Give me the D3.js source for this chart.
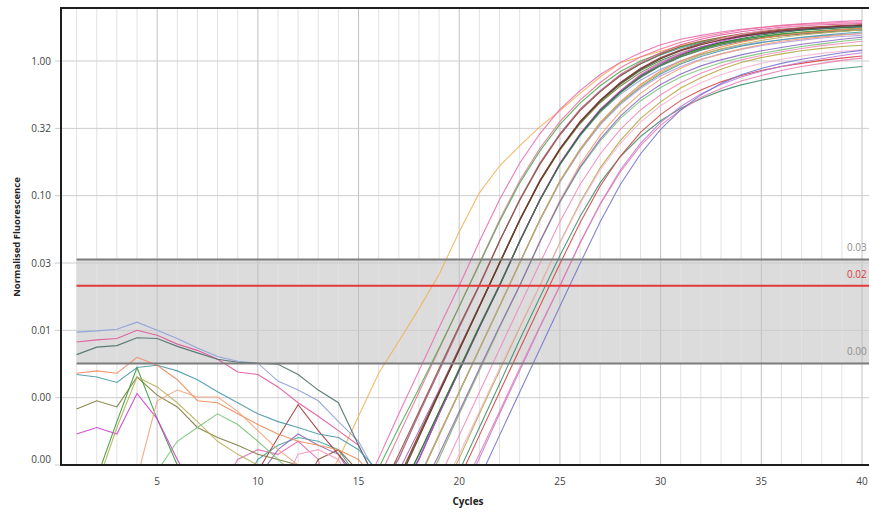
<!DOCTYPE html>
<html>
<head>
<meta charset="utf-8">
<script src="https://cdn.jsdelivr.net/npm/d3@7"></script>
<style>
  body { margin: 0; background: #fff; }
  svg { display: block; }
  text { font-family: "Open Sans", "DejaVu Sans", sans-serif; }
</style>
</head>
<body>
<svg width="869" height="512"></svg>
<script>
'use strict';

// ---- data ----
const cycles = [1, 2, 3, 4, 5, 6, 7, 8, 9, 10,
                11, 12, 13, 14, 15, 16, 17, 18, 19, 20,
                21, 22, 23, 24, 25, 26, 27, 28, 29, 30,
                31, 32, 33, 34, 35, 36, 37, 38, 39, 40];
const xTicks = [5, 10, 15, 20, 25, 30, 35, 40];
const yTicks = [0.001, 0.00316, 0.01, 0.0316, 0.1, 0.316, 1];
const thresholdUpper = 0.0336;
const thresholdValue = 0.0214;
const thresholdLower = 0.00568;
const thresholdLabels = ["0.03", "0.02", "0.00"];

// normalised fluorescence per cycle, one array per well (null = below the axis, not readable)
const well01 = [null, null, null, null, null, null, null, null, null, null,
  null, null, 0.00063, 0.0011, 0.0023, 0.0048, 0.0083, 0.0145, 0.026, 0.054,
  0.105, 0.166, 0.234, 0.324, 0.427, 0.575, 0.76, 0.97, 1.07, 1.18,
  1.30, 1.40, 1.49, 1.57, 1.64, 1.70, 1.75, 1.79, 1.83, 1.86];
const well02 = [null, null, null, null, null, null, null, 0.0006, 0.0011, 0.0013,
  0.0012, 0.0015, 0.0011, 0.00025, 0.00056, 0.00112, 0.0024, 0.0050, 0.0105, 0.0214,
  0.0457, 0.0933, 0.174, 0.288, 0.437, 0.603, 0.794, 0.977, 1.15, 1.32,
  1.45, 1.55, 1.64, 1.72, 1.78, 1.84, 1.89, 1.93, 1.97, 2.0];
const well03 = [null, null, null, null, null, null, null, null, null, null,
  null, null, null, null, 0.00038, 0.00079, 0.00166, 0.00347, 0.00724, 0.0151,
  0.0316, 0.066, 0.129, 0.224, 0.355, 0.513, 0.692, 0.891, 1.07, 1.23,
  1.38, 1.50, 1.60, 1.70, 1.77, 1.83, 1.87, 1.90, 1.93, 1.95];
const well04 = [null, null, null, null, null, null, null, null, null, null,
  null, null, null, null, 0.0005, 0.00095, 0.0019, 0.0037, 0.0074, 0.0150,
  0.0310, 0.064, 0.124, 0.214, 0.338, 0.487, 0.655, 0.835, 1.0, 1.14,
  1.27, 1.38, 1.47, 1.55, 1.62, 1.67, 1.71, 1.75, 1.78, 1.80];
const well05 = [null, null, null, null, null, null, null, null, 0.0006, 0.0011,
  0.0014, 0.0016, 0.0015, 0.0013, 0.0008, 0.00056, 0.00112, 0.0024, 0.0050, 0.0105,
  0.0214, 0.0457, 0.0933, 0.174, 0.288, 0.437, 0.60, 0.78, 0.95, 1.11,
  1.25, 1.36, 1.45, 1.53, 1.60, 1.66, 1.71, 1.75, 1.78, 1.80];
const well06 = [0.0082, 0.0085, 0.0087, 0.0100, 0.0092, 0.0079, 0.0071, 0.0061, 0.0049, 0.0047,
  0.0038, 0.0029, 0.0023, 0.0018, 0.0014, 0.0007, 0.00112, 0.0024, 0.0050, 0.0105,
  0.0214, 0.0457, 0.0933, 0.174, 0.288, 0.437, 0.603, 0.794, 0.977, 1.15,
  1.32, 1.45, 1.56, 1.65, 1.72, 1.78, 1.82, 1.86, 1.88, 1.90];
const well07 = [null, null, null, null, null, null, null, null, null, null,
  null, 0.0006, 0.0011, 0.0013, 0.0009, 0.0006, 0.0012, 0.0025, 0.0052, 0.0108,
  0.0218, 0.046, 0.092, 0.170, 0.282, 0.428, 0.59, 0.775, 0.955, 1.12,
  1.28, 1.40, 1.50, 1.59, 1.66, 1.72, 1.77, 1.80, 1.83, 1.85];
const well08 = [null, null, null, null, null, null, null, null, null, null,
  null, null, null, null, null, 0.00038, 0.00079, 0.00166, 0.00347, 0.00724,
  0.0151, 0.0316, 0.066, 0.129, 0.222, 0.350, 0.50, 0.67, 0.85, 1.01,
  1.15, 1.27, 1.37, 1.45, 1.52, 1.58, 1.63, 1.67, 1.71, 1.74];
const well09 = [null, null, null, null, null, null, null, null, null, 0.0008,
  0.0013, 0.0017, 0.0014, 0.0012, 0.0007, 0.0005, 0.0009, 0.0018, 0.0036, 0.0074,
  0.0152, 0.0316, 0.066, 0.129, 0.224, 0.355, 0.51, 0.69, 0.88, 1.05,
  1.20, 1.33, 1.43, 1.52, 1.59, 1.65, 1.70, 1.74, 1.77, 1.80];
const well10 = [0.0026, 0.0030, 0.0027, 0.0045, 0.0033, 0.0027, 0.0019, 0.0016, 0.0014, 0.0012,
  0.0011, 0.0010, 0.0009, 0.0008, 0.0006, 0.0005, 0.00079, 0.00166, 0.00347, 0.00724,
  0.0151, 0.0316, 0.066, 0.127, 0.218, 0.342, 0.49, 0.65, 0.82, 0.98,
  1.12, 1.24, 1.34, 1.42, 1.49, 1.55, 1.60, 1.64, 1.67, 1.70];
const well11 = [null, null, null, null, null, null, null, null, 0.0007, 0.0009,
  0.0016, 0.0028, 0.0018, 0.0012, 0.0008, 0.0004, 0.0008, 0.0017, 0.0035, 0.0073,
  0.0151, 0.0316, 0.066, 0.129, 0.224, 0.355, 0.513, 0.692, 0.88, 1.06,
  1.21, 1.35, 1.46, 1.55, 1.63, 1.70, 1.75, 1.79, 1.82, 1.85];
const well12 = [null, null, null, null, null, null, null, null, null, null,
  0.0006, 0.0012, 0.0013, 0.0011, 0.0006, 0.00025, 0.00056, 0.00112, 0.0024, 0.0050,
  0.0105, 0.0214, 0.0457, 0.0933, 0.174, 0.288, 0.437, 0.603, 0.794, 0.977,
  1.15, 1.32, 1.46, 1.58, 1.68, 1.76, 1.83, 1.88, 1.92, 1.95];
const well13 = [0.0097, 0.0099, 0.0102, 0.0115, 0.0100, 0.0087, 0.0074, 0.0064, 0.0059, 0.0057,
  0.0042, 0.0036, 0.0030, 0.0021, 0.0015, 0.0008, 0.0006, 0.00112, 0.0024, 0.0050,
  0.0105, 0.0214, 0.0457, 0.0925, 0.170, 0.278, 0.415, 0.565, 0.72, 0.87,
  1.00, 1.12, 1.22, 1.31, 1.38, 1.44, 1.49, 1.53, 1.57, 1.60];
const well14 = [0.0004, 0.0008, 0.0021, 0.0053, 0.0022, 0.0010, 0.0005, null, null, null,
  null, null, null, null, null, 0.0003, 0.0006, 0.0012, 0.0025, 0.0052,
  0.0108, 0.0218, 0.046, 0.092, 0.170, 0.280, 0.42, 0.58, 0.76, 0.93,
  1.08, 1.22, 1.34, 1.44, 1.52, 1.59, 1.64, 1.68, 1.72, 1.75];
const well15 = [0.0066, 0.0075, 0.0077, 0.0088, 0.0087, 0.0076, 0.0068, 0.0061, 0.0058, 0.0057,
  0.0056, 0.0047, 0.0036, 0.0029, 0.0014, 0.0007, 0.0006, 0.0011, 0.0024, 0.0050,
  0.0105, 0.0214, 0.0457, 0.093, 0.172, 0.284, 0.428, 0.585, 0.755, 0.92,
  1.07, 1.20, 1.31, 1.40, 1.48, 1.54, 1.59, 1.63, 1.67, 1.70];
const well16 = [0.0017, 0.0019, 0.0017, 0.0034, 0.0022, 0.0011, 0.0006, null, null, null,
  null, null, null, null, null, 0.0003, 0.0006, 0.0011, 0.0024, 0.0050,
  0.0105, 0.0214, 0.0457, 0.0933, 0.174, 0.288, 0.437, 0.60, 0.785, 0.96,
  1.12, 1.27, 1.40, 1.51, 1.60, 1.67, 1.73, 1.77, 1.81, 1.85];
const well17 = [0.0047, 0.0045, 0.0041, 0.0053, 0.0055, 0.0050, 0.0043, 0.0035, 0.0029, 0.0024,
  0.0021, 0.0019, 0.0017, 0.0016, 0.0013, 0.0009, 0.0005, 0.00079, 0.00166, 0.00347,
  0.00724, 0.0151, 0.0316, 0.066, 0.127, 0.218, 0.34, 0.485, 0.64, 0.80,
  0.95, 1.08, 1.19, 1.29, 1.37, 1.44, 1.50, 1.55, 1.60, 1.64];
const well18 = [0.0048, 0.0050, 0.0048, 0.0063, 0.0055, 0.0043, 0.0030, 0.0029, 0.0024, 0.0020,
  0.0017, 0.0015, 0.0014, 0.0013, 0.0011, 0.0007, 0.0004, 0.0008, 0.0017, 0.0035,
  0.0073, 0.0151, 0.0316, 0.066, 0.129, 0.222, 0.350, 0.50, 0.67, 0.84,
  1.00, 1.14, 1.27, 1.38, 1.47, 1.55, 1.61, 1.66, 1.71, 1.75];
const well19 = [null, null, null, null, null, null, null, null, null, null,
  null, null, null, null, null, null, 0.00038, 0.00079, 0.00166, 0.00347,
  0.00724, 0.0151, 0.0316, 0.065, 0.126, 0.215, 0.335, 0.475, 0.625, 0.775,
  0.91, 1.03, 1.13, 1.22, 1.30, 1.37, 1.43, 1.48, 1.52, 1.55];
const well20 = [null, 0.0007, 0.0019, 0.0045, 0.0038, 0.0029, 0.0021, 0.0015, 0.0012, 0.0010,
  0.0009, 0.0008, 0.0006, null, null, null, 0.00038, 0.00079, 0.00166, 0.00347,
  0.00724, 0.0151, 0.0316, 0.066, 0.128, 0.220, 0.345, 0.49, 0.65, 0.82,
  0.97, 1.11, 1.23, 1.33, 1.42, 1.50, 1.56, 1.61, 1.66, 1.70];
const well21 = [null, null, null, 0.0008, 0.0030, 0.0036, 0.0032, 0.0032, 0.0025, 0.0018,
  0.0013, 0.0010, 0.0008, null, null, null, 0.00025, 0.00056, 0.00112, 0.0024,
  0.0050, 0.0105, 0.0214, 0.0457, 0.092, 0.170, 0.280, 0.42, 0.575, 0.735,
  0.885, 1.02, 1.13, 1.23, 1.32, 1.40, 1.46, 1.51, 1.56, 1.60];
const well22 = [null, null, null, null, 0.0009, 0.0015, 0.0019, 0.0024, 0.0020, 0.0015,
  0.0011, 0.0008, 0.0006, null, null, null, 0.00025, 0.00056, 0.00112, 0.0024,
  0.0050, 0.0105, 0.0214, 0.045, 0.089, 0.160, 0.255, 0.375, 0.505, 0.635,
  0.76, 0.87, 0.97, 1.06, 1.14, 1.21, 1.28, 1.34, 1.40, 1.45];
const well23 = [null, null, null, null, null, null, null, null, null, null,
  null, null, null, null, null, null, 0.0003, 0.0006, 0.0012, 0.0025,
  0.0052, 0.0107, 0.0214, 0.0452, 0.090, 0.163, 0.263, 0.39, 0.53, 0.67,
  0.80, 0.92, 1.02, 1.11, 1.19, 1.26, 1.33, 1.39, 1.45, 1.50];
const well24 = [null, null, null, null, null, null, null, null, null, null,
  null, null, null, null, null, null, null, 0.00038, 0.00079, 0.00166,
  0.00347, 0.00724, 0.0151, 0.0313, 0.064, 0.121, 0.204, 0.311, 0.433, 0.561,
  0.69, 0.81, 0.92, 1.02, 1.10, 1.17, 1.24, 1.30, 1.35, 1.40];
const well25 = [null, null, null, null, null, null, null, null, null, null,
  null, null, null, null, null, null, null, 0.00025, 0.00056, 0.00112,
  0.0024, 0.0050, 0.0105, 0.0214, 0.0449, 0.089, 0.161, 0.256, 0.373, 0.497,
  0.63, 0.75, 0.87, 0.975, 1.06, 1.13, 1.19, 1.24, 1.28, 1.31];
const well26 = [null, null, null, null, null, null, null, null, null, null,
  null, null, null, null, null, null, null, 0.0003, 0.0006, 0.0012,
  0.0025, 0.0052, 0.0107, 0.0214, 0.0445, 0.087, 0.155, 0.245, 0.352, 0.465,
  0.58, 0.69, 0.79, 0.88, 0.96, 1.03, 1.09, 1.14, 1.18, 1.21];
const well27 = [null, null, null, null, null, null, null, null, null, null,
  null, null, null, null, null, null, null, 0.0002, 0.00045, 0.0009,
  0.0019, 0.0040, 0.0085, 0.0175, 0.036, 0.070, 0.125, 0.195, 0.275, 0.36,
  0.445, 0.525, 0.60, 0.665, 0.72, 0.77, 0.81, 0.85, 0.88, 0.91];
const well28 = [null, null, null, null, null, null, null, null, null, null,
  null, null, null, null, null, null, null, null, 0.00038, 0.00079,
  0.00166, 0.00347, 0.00724, 0.0151, 0.0312, 0.063, 0.118, 0.196, 0.295, 0.40,
  0.51, 0.61, 0.70, 0.78, 0.85, 0.91, 0.96, 1.01, 1.05, 1.09];
const well29 = [null, null, null, null, null, null, null, null, null, null,
  null, null, null, null, null, null, null, null, 0.00025, 0.00056,
  0.00112, 0.0024, 0.0050, 0.0105, 0.0214, 0.0447, 0.087, 0.155, 0.245, 0.35,
  0.46, 0.57, 0.67, 0.76, 0.84, 0.91, 0.98, 1.04, 1.10, 1.15];
const well30 = [null, null, null, null, null, null, null, null, null, null,
  null, null, null, null, null, null, null, null, 0.0003, 0.0006,
  0.0012, 0.0025, 0.0052, 0.0107, 0.0214, 0.0445, 0.086, 0.150, 0.235, 0.333,
  0.435, 0.535, 0.625, 0.71, 0.78, 0.85, 0.91, 0.96, 1.01, 1.05];
const well31 = [null, null, null, null, null, null, null, null, null, null,
  null, null, null, null, null, null, null, null, null, 0.00038,
  0.00079, 0.00166, 0.00347, 0.00724, 0.0151, 0.0313, 0.064, 0.121, 0.204, 0.311,
  0.433, 0.56, 0.68, 0.79, 0.88, 0.96, 1.03, 1.09, 1.15, 1.20];
const well32 = [null, null, null, null, null, null, null, null, null, null,
  null, null, null, null, null, 0.00035, 0.00075, 0.0016, 0.0034, 0.0071,
  0.0149, 0.0312, 0.065, 0.127, 0.221, 0.350, 0.505, 0.68, 0.865, 1.04,
  1.19, 1.32, 1.43, 1.52, 1.60, 1.67, 1.72, 1.77, 1.81, 1.84];
const well33 = [null, null, null, null, null, null, null, null, null, null,
  null, null, null, null, null, 0.0003, 0.0006, 0.0012, 0.0025, 0.0051,
  0.0106, 0.0214, 0.0455, 0.0925, 0.172, 0.284, 0.43, 0.59, 0.77, 0.94,
  1.10, 1.25, 1.37, 1.47, 1.56, 1.63, 1.69, 1.73, 1.77, 1.80];

const wells = [well01, well02, well03, well04, well05, well06, well07, well08, well09, well10,
  well11, well12, well13, well14, well15, well16, well17, well18, well19, well20,
  well21, well22, well23, well24, well25, well26, well27, well28, well29, well30,
  well31, well32, well33];

// line colours, in well order
const wellColors = ["#f0b45a", "#e86bb0", "#f06fa0", "#4caf50", "#3fa7a0", "#e0559a", "#8b5a3c",
  "#2e8b57", "#9467bd", "#7d7a3a", "#a33a3a", "#f49ac1", "#8da0d8", "#3a9a3a", "#4f6f6a",
  "#d03fcf", "#4a98a8", "#ef8a5a", "#b4a0e0", "#b8b05a", "#f2a27a", "#7cc47c", "#8a6cc4",
  "#f08cbc", "#b5a642", "#f5b5d0", "#3f8f6f", "#d64545", "#c27ad8", "#e57fae", "#7575d0",
  "#5a3b1f", "#2f6f3f"];

// ---- layout ----
const svg = d3.select("svg");
const plotLeft = 61, plotTop = 8, plotBottom = 465, plotRight = 880;

const x = d3.scaleLinear().domain([1, 40]).range([76.6, 862]);
const y = d3.scaleLog().domain([0.001, 1]).range([plotBottom, 61]);

svg.append("rect").attr("width", 869).attr("height", 512).attr("fill", "#fff");

svg.append("defs").append("clipPath")
    .attr("id", "plotclip")
  .append("rect")
    .attr("x", plotLeft)
    .attr("y", plotTop)
    .attr("width", plotRight - plotLeft)
    .attr("height", plotBottom - plotTop);

// threshold band
svg.append("rect")
    .attr("x", x(1))
    .attr("y", y(thresholdUpper))
    .attr("width", plotRight - x(1))
    .attr("height", y(thresholdLower) - y(thresholdUpper))
    .attr("fill", "#dcdcdc");

// vertical grid (every cycle, darker every 5)
svg.append("g").selectAll("line")
  .data(cycles)
  .join("line")
    .attr("x1", d => x(d)).attr("x2", d => x(d))
    .attr("y1", plotTop).attr("y2", plotBottom)
    .attr("stroke", d => d % 5 === 0 ? "#c2c2c2" : "#e2e2e2")
    .attr("stroke-width", 1);

// horizontal grid + tick stubs
svg.append("g").selectAll("line")
  .data(yTicks)
  .join("line")
    .attr("x1", plotLeft - 6).attr("x2", plotRight)
    .attr("y1", d => y(d)).attr("y2", d => y(d))
    .attr("stroke", "#cccccc")
    .attr("stroke-width", 1);

// amplification curves
const line = d3.line()
    .defined(d => d != null)
    .x((d, i) => x(cycles[i]))
    .y(d => y(d));

svg.append("g")
    .attr("clip-path", "url(#plotclip)")
  .selectAll("path")
  .data(wells)
  .join("path")
    .attr("fill", "none")
    .attr("stroke", (d, i) => wellColors[i])
    .attr("stroke-width", 1.1)
    .attr("stroke-opacity", 0.9)
    .attr("d", line);

// threshold lines
const thr = svg.append("g").attr("clip-path", "url(#plotclip)");
const thrStyles = [[thresholdUpper, "#7c7c7c"], [thresholdValue, "#e2383a"], [thresholdLower, "#7c7c7c"]];
thrStyles.forEach(([v, c]) => {
  thr.append("line")
      .attr("x1", x(1)).attr("x2", plotRight)
      .attr("y1", y(v)).attr("y2", y(v))
      .attr("stroke", c)
      .attr("stroke-width", 2);
});
thrStyles.forEach(([v, c], i) => {
  thr.append("text")
      .attr("x", 847)
      .attr("y", y(v) - 8)
      .attr("font-size", 10)
      .attr("fill", i === 1 ? c : "#8c8c8c")
      .text(thresholdLabels[i]);
});

// frame
svg.append("path")
    .attr("d", `M${plotRight},${plotTop}H${plotLeft}V${plotBottom}H${plotRight}`)
    .attr("fill", "none")
    .attr("stroke", "#1e1e1e")
    .attr("stroke-width", 2);

// y tick labels
svg.append("g").selectAll("text")
  .data(yTicks)
  .join("text")
    .attr("x", 51)
    .attr("y", (d, i) => y(d) - (i === 0 ? 6 : 0))
    .attr("dy", "0.35em")
    .attr("text-anchor", "end")
    .attr("font-size", 10)
    .attr("fill", "#444")
    .text(d => d3.format(".2f")(d));

// x tick labels
svg.append("g").selectAll("text")
  .data(xTicks)
  .join("text")
    .attr("x", d => x(d))
    .attr("y", 485)
    .attr("text-anchor", "middle")
    .attr("font-size", 10)
    .attr("fill", "#444")
    .text(d => d);

svg.append("text")
    .attr("x", 468)
    .attr("y", 505)
    .attr("text-anchor", "middle")
    .attr("font-size", 10)
    .attr("font-weight", "bold")
    .attr("fill", "#222")
    .text("Cycles");

svg.append("text")
    .attr("transform", "translate(20,237) rotate(-90)")
    .attr("text-anchor", "middle")
    .attr("font-size", 9.5)
    .attr("font-weight", "bold")
    .attr("fill", "#222")
    .text("Normalised Fluorescence");
</script>
</body>
</html>
